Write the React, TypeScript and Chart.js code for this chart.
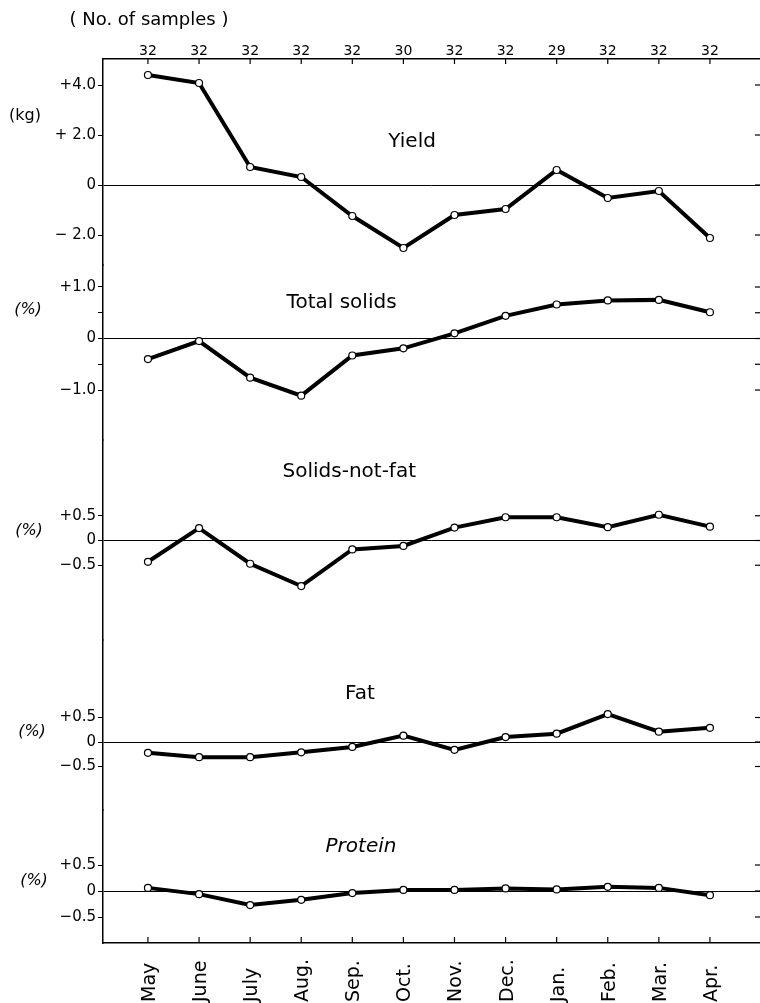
import { useEffect, useRef } from 'react';
import { Chart, registerables } from 'chart.js';

Chart.register(...registerables);

const months = ['May', 'June', 'July', 'Aug.', 'Sep.', 'Oct.', 'Nov.', 'Dec.', 'Jan.', 'Feb.', 'Mar.', 'Apr.'];
const sampleCounts = [32, 32, 32, 32, 32, 30, 32, 32, 29, 32, 32, 32];

const yieldKg = [4.4, 4.08, 0.72, 0.32, -1.24, -2.52, -1.2, -0.96, 0.6, -0.52, -0.24, -2.12];
const totalSolids = [-0.4, -0.05, -0.76, -1.11, -0.33, -0.19, 0.1, 0.44, 0.66, 0.74, 0.75, 0.51];
const solidsNotFat = [-0.43, 0.25, -0.47, -0.92, -0.18, -0.11, 0.26, 0.47, 0.47, 0.27, 0.52, 0.28];
const fat = [-0.22, -0.31, -0.31, -0.21, -0.1, 0.13, -0.16, 0.1, 0.17, 0.57, 0.21, 0.29];
const protein = [0.06, -0.06, -0.27, -0.17, -0.04, 0.02, 0.02, 0.05, 0.03, 0.08, 0.06, -0.08];

const yieldTicks = [4, 2, 0, -2];
const yieldTickLabels = ['+4.0', '+ 2.0', '0', '\u2212 2.0'];
const totalSolidsTicks = [1, 0.5, 0, -0.5, -1];
const totalSolidsTickLabels = ['+1.0', '', '0', '', '\u22121.0'];
const halfTicks = [0.5, 0, -0.5];
const halfTickLabels = ['+0.5', '0', '\u22120.5'];

const FONT = 'DejaVu Sans';

// top to bottom; weight = share of the plot height
const PANELS = [
    { id: 'yYield', name: 'Yield', unit: '(kg)', data: yieldKg, ticks: yieldTicks, labels: yieldTickLabels,
      min: -3.2, max: 5.04, weight: 206, nameAt: [5.17, 1.52], unitAt: [25, 2.76], italic: false },
    { id: 'yTotal', name: 'Total solids', unit: '(%)', data: totalSolids, ticks: totalSolidsTicks, labels: totalSolidsTickLabels,
      min: -1.97, max: 1.427, weight: 175, nameAt: [3.79, 0.59], unitAt: [28, 0.55], italic: false },
    { id: 'ySnf', name: 'Solids-not-fat', unit: '(%)', data: solidsNotFat, ticks: halfTicks, labels: halfTickLabels,
      min: -2.01, max: 2.03, weight: 200, nameAt: [3.94, 1.28], unitAt: [29, 0.19], italic: false },
    { id: 'yFat', name: 'Fat', unit: '(%)', data: fat, ticks: halfTicks, labels: halfTickLabels,
      min: -1.388, max: 2.082, weight: 170, nameAt: [4.15, 0.88], unitAt: [32, 0.2], italic: false },
    { id: 'yProtein', name: 'Protein', unit: '(%)', data: protein, ticks: halfTicks, labels: halfTickLabels,
      min: -1.0, max: 1.558, weight: 133, nameAt: [4.17, 0.75], unitAt: [34, 0.19], italic: true },
];

const X_MIN = -0.88;
const X_MAX = 11.98;

const decorPlugin = {
    id: 'decor',
    afterDraw(chart: any) {
        const { ctx, chartArea, scales } = chart;
        const x = scales.x;
        const line = (x1: number, y1: number, x2: number, y2: number) => {
            ctx.beginPath();
            ctx.moveTo(x1, y1);
            ctx.lineTo(x2, y2);
            ctx.stroke();
        };
        ctx.save();
        ctx.strokeStyle = '#000';
        ctx.fillStyle = '#000';
        ctx.lineWidth = 1.2;

        // ticks pointing into the frame
        months.forEach((_, i) => {
            const px = x.getPixelForValue(i);
            line(px, chartArea.top, px, chartArea.top + 5);
            line(px, chartArea.bottom, px, chartArea.bottom - 6);
        });
        PANELS.forEach((p) => {
            const s = scales[p.id];
            p.ticks.forEach((v) => {
                const py = s.getPixelForValue(v);
                line(chartArea.right - 5, py, chartArea.right, py);
            });
        });

        // month names, read bottom to top
        ctx.font = `19px "${FONT}"`;
        ctx.textAlign = 'left';
        ctx.textBaseline = 'middle';
        months.forEach((m, i) => {
            ctx.save();
            ctx.translate(x.getPixelForValue(i) + 2, chartArea.bottom + 59);
            ctx.rotate(-Math.PI / 2);
            ctx.fillText(m, 0, 0);
            ctx.restore();
        });

        // panel names and units
        ctx.textAlign = 'center';
        PANELS.forEach((p) => {
            const s = scales[p.id];
            ctx.font = `${p.italic ? 'italic ' : ''}20px "${FONT}"`;
            ctx.textBaseline = 'alphabetic';
            ctx.fillText(p.name, x.getPixelForValue(p.nameAt[0]), s.getPixelForValue(p.nameAt[1]));
            ctx.font = `${p.unit === '(%)' ? 'italic ' : ''}16px "${FONT}"`;
            ctx.textBaseline = 'middle';
            ctx.fillText(p.unit, p.unitAt[0], s.getPixelForValue(p.unitAt[1]));
        });

        ctx.font = `18px "${FONT}"`;
        ctx.textBaseline = 'middle';
        ctx.fillText('( No. of samples )', 149, 20);
        ctx.restore();
    },
};

export default function App() {
    const canvasRef = useRef<HTMLCanvasElement | null>(null);
    const chartInstance = useRef<Chart | null>(null);

    useEffect(() => {
        if (!canvasRef.current) return;
        if (chartInstance.current) chartInstance.current.destroy();

        const monthTicks = (scale: any) => {
            scale.ticks = months.map((_, i) => ({ value: i }));
        };
        const fitX = (h: number) => (scale: any) => {
            scale.height = h;
            scale.paddingLeft = 0;
            scale.paddingRight = 0;
        };

        const scales: any = {
            x: {
                type: 'linear',
                position: 'bottom',
                min: X_MIN,
                max: X_MAX,
                afterBuildTicks: monthTicks,
                afterFit: fitX(60),
                ticks: { display: false },
                grid: { drawOnChartArea: false, drawTicks: false },
                border: { display: true, color: '#000', width: 1.5 },
            },
            x2: {
                type: 'linear',
                axis: 'x',
                position: 'top',
                min: X_MIN,
                max: X_MAX,
                afterBuildTicks: monthTicks,
                afterFit: fitX(59),
                ticks: {
                    autoSkip: false,
                    maxRotation: 0,
                    padding: -1,
                    color: '#000',
                    font: { family: FONT, size: 14 },
                    callback: (v: any) => String(sampleCounts[Math.round(v)]),
                },
                grid: { drawOnChartArea: false, drawTicks: false },
                border: { display: true, color: '#000', width: 1.5 },
            },
        };

        // the last left axis of a stack is placed on top, so add them bottom-up
        [...PANELS].reverse().forEach((p) => {
            scales[p.id] = {
                type: 'linear',
                axis: 'y',
                position: 'left',
                stack: 'panels',
                stackWeight: p.weight,
                min: p.min,
                max: p.max,
                afterBuildTicks: (scale: any) => {
                    scale.ticks = p.ticks.map((v) => ({ value: v }));
                },
                afterFit: (scale: any) => {
                    scale.width = 103;
                    scale.paddingTop = 0;
                    scale.paddingBottom = 0;
                },
                ticks: {
                    autoSkip: false,
                    padding: 2,
                    color: '#000',
                    font: { family: FONT, size: 15 },
                    callback: (v: any) => {
                        const k = p.ticks.indexOf(v);
                        return k >= 0 ? p.labels[k] : '';
                    },
                },
                grid: {
                    color: (c: any) => (c.tick && c.tick.value === 0 ? '#000' : 'rgba(0,0,0,0)'),
                    lineWidth: 1,
                    tickColor: '#000',
                    tickLength: 5,
                },
                border: { display: true, color: '#000', width: 1.5 },
            };
        });

        chartInstance.current = new Chart(canvasRef.current, {
            type: 'line',
            data: {
                datasets: PANELS.map((p) => ({
                    label: p.name,
                    data: p.data.map((v, i) => ({ x: i, y: v })),
                    xAxisID: 'x',
                    yAxisID: p.id,
                    borderColor: '#000',
                    borderWidth: 4,
                    tension: 0,
                    pointRadius: 3.5,
                    pointBackgroundColor: '#fff',
                    pointBorderColor: '#000',
                    pointBorderWidth: 1.2,
                })),
            },
            options: {
                responsive: false,
                animation: false,
                events: [],
                layout: { padding: 0, autoPadding: false },
                plugins: {
                    legend: { display: false },
                    tooltip: { enabled: false },
                },
                scales,
            },
            plugins: [decorPlugin],
        });

        return () => {
            if (chartInstance.current) {
                chartInstance.current.destroy();
                chartInstance.current = null;
            }
        };
    }, []);

    return (
        <div style={{ position: 'absolute', left: 0, top: 0, width: 760, height: 1003, background: '#fff' }}>
            <canvas ref={canvasRef} width={760} height={1003} style={{ display: 'block' }}></canvas>
        </div>
    );
}
